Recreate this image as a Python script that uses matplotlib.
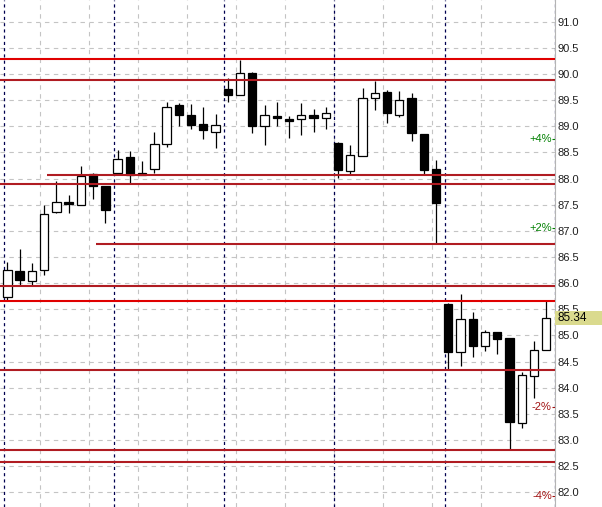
import numpy as np
import matplotlib.pyplot as plt
from matplotlib.patches import Rectangle
from matplotlib.transforms import blended_transform_factory

plt.rcParams["font.family"] = ["Liberation Sans", "DejaVu Sans"]

# hourly bars
opens = [85.73, 86.23, 86.05, 86.25, 87.36, 87.55, 87.49, 88.09, 87.86,
         88.10, 88.41, 88.07, 88.18, 88.66, 89.41, 89.21, 89.04, 88.90,
         89.71, 89.59, 90.01, 89.00, 89.19, 89.14, 89.13, 89.21, 89.15,
         88.68, 88.14, 88.43, 89.54, 89.65, 89.21, 89.54, 88.85, 88.18,
         85.60, 84.68, 85.31, 84.79, 85.06, 84.95, 83.33, 84.23, 84.73]
highs = [86.40, 86.65, 86.38, 87.49, 87.95, 87.68, 88.24, 88.10, 87.86,
         88.55, 88.53, 88.34, 88.89, 89.46, 89.45, 89.43, 89.36, 89.23,
         89.92, 90.27, 90.03, 89.40, 89.47, 89.20, 89.44, 89.34, 89.36,
         88.70, 88.64, 89.73, 89.87, 89.69, 89.67, 89.63, 88.85, 88.36,
         85.63, 85.79, 85.44, 85.10, 85.06, 84.95, 84.30, 84.89, 85.65]
lows = [85.68, 85.97, 85.97, 86.16, 87.34, 87.35, 87.49, 87.61, 87.16,
        88.07, 87.92, 88.07, 88.11, 88.60, 89.01, 88.95, 88.76, 88.59,
        89.47, 89.59, 88.88, 88.65, 89.01, 88.78, 88.83, 88.90, 88.95,
        88.02, 88.07, 88.43, 89.32, 89.07, 89.17, 88.72, 88.09, 86.77,
        84.35, 84.42, 84.59, 84.71, 84.65, 82.82, 83.24, 83.81, 84.73]
closes = [86.25, 86.07, 86.23, 87.32, 87.55, 87.51, 88.04, 87.85, 87.39,
          88.37, 88.07, 88.11, 88.66, 89.36, 89.22, 89.03, 88.92, 89.02,
          89.60, 90.01, 89.01, 89.21, 89.16, 89.11, 89.21, 89.16, 89.25,
          88.16, 88.46, 89.54, 89.63, 89.26, 89.50, 88.87, 88.17, 87.54,
          84.69, 85.31, 84.80, 85.06, 84.94, 83.35, 84.25, 84.73, 85.34]

# support / resistance levels and the bar where each one starts
levels = [90.29, 89.89, 88.06, 87.90, 86.75, 85.95, 85.66, 84.34, 82.81, 82.58]
level_start = [None, None, 3.24, None, 7.27, None, None, None, None, None]
level_bright = [True, False, False, False, False, False, True, False, False, False]

pct_levels = [4, 2, -2, -4]
bars_per_session = 9

n = len(closes)
idx = np.arange(n)
last = closes[-1]

fig = plt.figure(figsize=(6.02, 5.07), dpi=100)
ax = fig.add_axes([0, 0, 555 / 602, 1])
xmin, xmax = -0.6, 44.71
ax.set_xlim(xmin, xmax)
ax.set_ylim(81.72, 91.415)

# grid
yticks = np.arange(82.0, 91.01, 0.5)
for y in yticks:
    ax.axhline(y, color="#c4c4c4", lw=0.8, ls=(0, (4, 4)), zorder=0)
for x in np.arange(2.7, n - 5, 4):
    ax.axvline(x, color="#c4c4c4", lw=0.8, ls=(0, (4, 4)), zorder=0)
for x in np.arange(-0.3, n, bars_per_session):
    ax.axvline(x, color="#000050", lw=0.9, ls=(0, (2.5, 2.5)), zorder=1)

# candles
w = 0.68
for i in idx:
    o, h, l, c = opens[i], highs[i], lows[i], closes[i]
    ax.vlines(i, l, h, color="black", lw=0.9, zorder=2)
    lo, hi = min(o, c), max(o, c)
    up = c >= o
    ax.add_patch(Rectangle((i - w / 2, lo), w, max(hi - lo, 0.02),
                           facecolor="white" if up else "black",
                           edgecolor="black", lw=0.9, zorder=3))

# level lines
for lv, st, br in zip(levels, level_start, level_bright):
    ax.hlines(lv, xmin if st is None else st, xmax,
              color="#e00000" if br else "#b01c22", lw=1.5, zorder=4)

# percent marks from the last price
for p in pct_levels:
    y = last * (1 + p / 100)
    col = "#008000" if p > 0 else "#a01010"
    ax.text(44.45, y, f"{p:+d}%", ha="right", va="center",
            fontsize=8, color=col, zorder=5)
    ax.hlines(y, 44.47, xmax, color=col, lw=0.8, zorder=5)

# axis
ax.yaxis.tick_right()
ax.set_yticks(yticks)
ax.set_yticklabels([f"{v:.1f}" for v in yticks])
ax.tick_params(axis="y", length=0, pad=2, labelsize=8, labelcolor="#202020")
ax.set_xticks([])
for s in ["top", "bottom", "left"]:
    ax.spines[s].set_visible(False)
ax.spines["right"].set_color("#b4b4b4")

# last price tag
tr = blended_transform_factory(ax.transAxes, ax.transData)
ax.add_patch(Rectangle((1.0, last - 0.135), 0.09, 0.27, transform=tr,
                       facecolor="#dada8e", edgecolor="none",
                       clip_on=False, zorder=6))
ax.text(1.004, last, f"{last:.2f}", transform=tr, ha="left", va="center",
        fontsize=8.5, color="black", zorder=7)

fig.savefig("out.png", dpi=100)
plt.close(fig)
